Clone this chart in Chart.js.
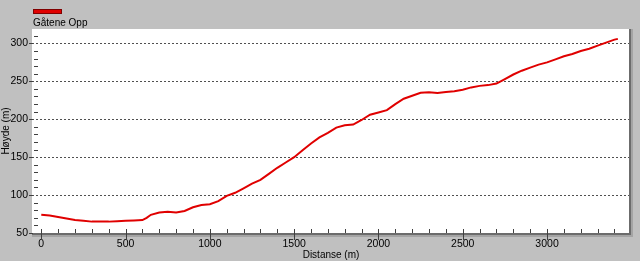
<!DOCTYPE html>
<html>
<head>
<meta charset="utf-8">
<script src="https://cdn.jsdelivr.net/npm/chart.js@4/dist/chart.umd.min.js"></script>
<style>
  html, body { margin: 0; padding: 0; background: #c0c0c0; }
  #wrap { width: 640px; height: 261px; }
</style>
</head>
<body>
<div id="wrap"><canvas id="myChart1"></canvas></div>
<script>
// distance (m) and height (m)
const distanse = [0,50,100,150,200,250,300,350,400,450,500,550,600,625,650,700,750,800,850,900,
  950,1000,1050,1100,1150,1200,1250,1300,1350,1400,1450,1500,1550,1600,1650,1700,1750,1800,1850,1900,
  1950,2000,2050,2100,2150,2200,2250,2300,2350,2400,2450,2500,2550,2600,2650,2700,2750,2800,2850,2900,
  2950,3000,3050,3100,3150,3200,3250,3300,3350,3400,3420];
const hoyde = [74,73,71,69,67,66,65,65,65,65.5,66,66.5,67,70,74,77,78,77,79,84,
  87,88,92,99,103,109,115,120,128,136,143,150,159,168,176,182,189,192,193,199,
  206,209,212,220,227,231,235,235.5,234.5,236,237,239,242,244,245,247,253,259,264,268,
  272,275,279,283,286,290,293,297,301,305,306];
const seriesName = 'Gåtene Opp';
const xTickLabels = [0,500,1000,1500,2000,2500,3000];
const yTickLabels = [50,100,150,200,250,300];

const font = { family: 'Liberation Sans, Arial, sans-serif', size: 10.5 };

// minor ticks every 100 m / 10 m
const xMinor = [];
for (let i = 0; i <= 3400; i += 100) xMinor.push(i);
const yMinor = [];
for (let i = 50; i <= 310; i += 10) yMinor.push(i);

const profilePlugin = {
  id: 'profile',
  beforeDraw(chart) {
    const c = chart.ctx, a = chart.chartArea;
    c.save();
    c.fillStyle = '#ffffff';
    c.fillRect(a.left, a.top, a.right - a.left, a.bottom - a.top);
    c.restore();
  },
  afterDraw(chart) {
    const c = chart.ctx, a = chart.chartArea;
    const xs = chart.scales.x, ys = chart.scales.y;
    c.save();
    // sunken frame right / bottom
    c.fillStyle = '#a4a4a4';
    c.fillRect(a.right, a.top, 3, a.bottom - a.top + 4);
    c.fillRect(a.left, a.bottom, a.right - a.left + 3, 4);
    c.fillStyle = '#6c6c6c';
    c.fillRect(a.right - 1, a.top, 2, a.bottom - a.top + 2);
    c.fillRect(a.left, a.bottom, a.right - a.left + 1, 2);

    c.strokeStyle = '#404040';
    c.lineWidth = 1;
    c.beginPath();
    xMinor.forEach(v => {
      const px = Math.round(xs.getPixelForValue(v)) + 0.5;
      if (xTickLabels.includes(v)) {
        c.moveTo(px, a.bottom - 4); c.lineTo(px, a.bottom + 7);
      } else {
        c.moveTo(px, a.bottom - 4); c.lineTo(px, a.bottom);
      }
    });
    yMinor.forEach(v => {
      const py = Math.round(ys.getPixelForValue(v)) + 0.5;
      if (yTickLabels.includes(v)) {
        c.moveTo(a.left - 3, py); c.lineTo(a.left + 1, py);
      } else {
        c.moveTo(a.left + 2, py); c.lineTo(a.left + 6, py);
      }
    });
    c.stroke();

    // legend: box above the name
    const ds = chart.data.datasets[0];
    c.fillStyle = ds.borderColor;
    c.fillRect(a.left + 1, 9, 29, 5);
    c.strokeStyle = '#800000';
    c.strokeRect(a.left + 1.5, 9.5, 28, 4);
    c.fillStyle = '#000';
    c.font = '10px ' + font.family;
    c.textBaseline = 'alphabetic';
    c.fillText(ds.label, a.left + 1, 26);
    c.restore();
  }
};

new Chart(document.getElementById('myChart1'), {
  type: 'line',
  data: {
    datasets: [{
      label: seriesName,
      data: distanse.map((d, i) => ({ x: d, y: hoyde[i] })),
      borderColor: '#e00000',
      borderWidth: 2,
      pointRadius: 0,
      tension: 0
    }]
  },
  options: {
    responsive: true,
    maintainAspectRatio: false,
    animation: false,
    layout: { padding: { top: 29, right: 10, left: 0, bottom: 0 } },
    plugins: { legend: { display: false }, tooltip: { enabled: false } },
    scales: {
      x: {
        type: 'linear',
        min: -55,
        max: 3492,
        afterBuildTicks: s => { s.ticks = xMinor.map(v => ({ value: v })); },
        afterFit: s => { s.height = 28; },
        grid: { drawOnChartArea: false, drawTicks: false },
        border: { display: false },
        ticks: {
          autoSkip: false, maxRotation: 0, padding: 5, color: '#000', font,
          callback: v => xTickLabels.includes(v) ? String(v) : ''
        },
        title: { display: true, text: 'Distanse (m)', color: '#000', font: { family: font.family, size: 10 }, padding: { top: 0, bottom: 0 } }
      },
      y: {
        min: 50,
        max: 319,
        afterBuildTicks: s => { s.ticks = yTickLabels.map(v => ({ value: v })); },
        afterFit: s => { s.width = 32; },
        grid: {
          drawTicks: false,
          color: ctx => ctx.tick && ctx.tick.value === 50 ? 'rgba(0,0,0,0)' : '#505050',
          lineWidth: 1
        },
        border: { display: false, dash: [2, 2] },
        ticks: { padding: 4, color: '#000', font },
        title: { display: true, text: 'Høyde (m)', color: '#000', font: { family: font.family, size: 10 }, padding: { top: 0, bottom: 0 } }
      }
    }
  },
  plugins: [profilePlugin]
});
</script>
</body>
</html>
